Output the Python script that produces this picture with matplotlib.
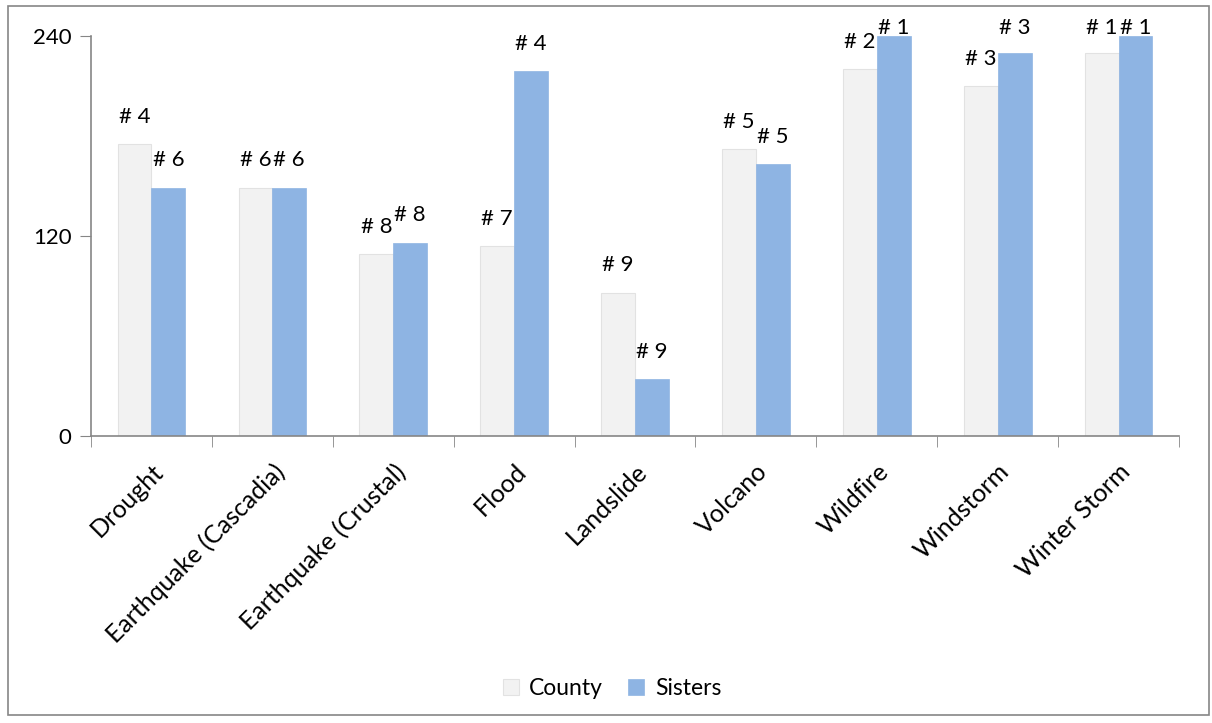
import numpy as np
import matplotlib
matplotlib.use("Agg")
import matplotlib.pyplot as plt
from matplotlib.patches import Rectangle

plt.rcParams['font.family'] = ['Lato', 'DejaVu Sans']

hazards = ["Drought", "Earthquake (Cascadia)", "Earthquake (Crustal)", "Flood",
           "Landslide", "Volcano", "Wildfire", "Windstorm", "Winter Storm"]
county = [175, 149, 109, 114, 86, 172, 220, 210, 230]
sisters = [149, 149, 116, 219, 34, 163, 240, 230, 240]
county_rank = ["# 4", "# 6", "# 8", "# 7", "# 9", "# 5", "# 2", "# 3", "# 1"]
sisters_rank = ["# 6", "# 6", "# 8", "# 4", "# 9", "# 5", "# 1", "# 3", "# 1"]

fig = plt.figure(figsize=(12.12, 7.23), dpi=100)
ax = fig.add_axes([0.0751, 0.397, 0.8977, 0.553])

x = np.arange(len(hazards))
w = 0.28
ax.bar(x - w / 2, county, w, color="#F2F2F2", edgecolor="#E2E2E2", linewidth=0.8,
       label="County", zorder=2)
ax.bar(x + w / 2, sisters, w, color="#8EB4E3", edgecolor="#8EB4E3", linewidth=0.5,
       label="Sisters", zorder=2)

# rank labels, kept inside the plot area like Excel does
for xi, v, t in zip(x - w / 2, county, county_rank):
    ax.text(xi, min(v + 16.5, 245), t, ha="center", va="center", fontsize=16, clip_on=False)
for xi, v, t in zip(x + w / 2, sisters, sisters_rank):
    ax.text(xi, min(v + 16.5, 245), t, ha="center", va="center", fontsize=16, clip_on=False)

ax.set_xlim(-0.5, len(hazards) - 0.5)
ax.set_ylim(0, 240)
ax.set_yticks([0, 120, 240])
ax.tick_params(axis="y", labelsize=16, length=8, color="#868686", pad=6)
ax.set_xticks(x)
ax.set_xticklabels(hazards, rotation=45, ha="right", rotation_mode="anchor", fontsize=18)
ax.tick_params(axis="x", which="major", length=0, pad=17)
ax.set_xticks(np.arange(-0.5, len(hazards)), minor=True)
ax.tick_params(axis="x", which="minor", length=8, color="#868686")

for s in ["top", "right"]:
    ax.spines[s].set_visible(False)
ax.spines["left"].set_color("#868686")
ax.spines["bottom"].set_color("#868686")
ax.spines["left"].set_linewidth(1.2)
ax.spines["bottom"].set_linewidth(1.2)

fig.legend(loc="center", bbox_to_anchor=(0.505, 0.048), ncol=2, frameon=False,
           fontsize=16.5, handlelength=0.7, handleheight=0.7, columnspacing=1.1,
           handletextpad=0.45)

fig.patches.append(Rectangle((0.0066, 0.011), 0.9909, 0.981, transform=fig.transFigure,
                             fill=False, edgecolor="#868686", linewidth=1.2))

fig.savefig("out.png", dpi=100)
